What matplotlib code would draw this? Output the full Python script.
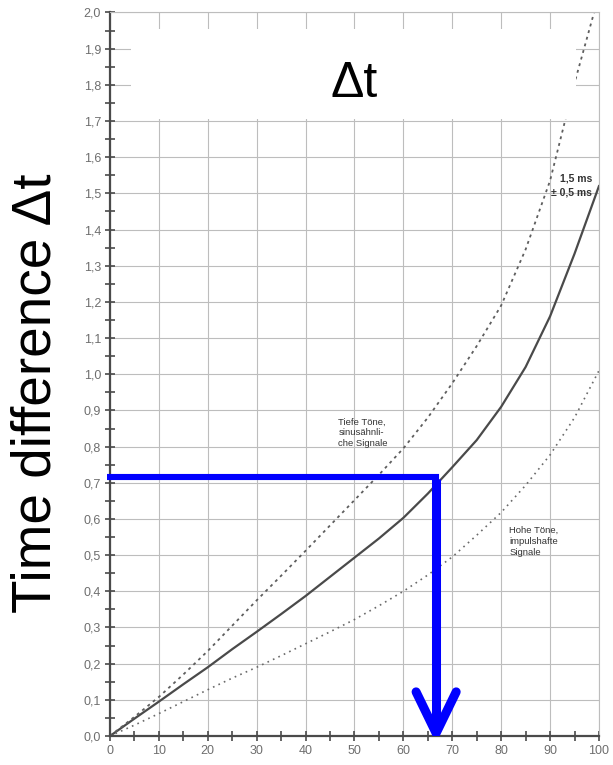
import numpy as np
import matplotlib.pyplot as plt
from matplotlib.patches import Rectangle

# angle / position along the x axis (0..100)
x_pos = [0, 5, 10, 15, 20, 25, 30, 35, 40, 45, 50,
         55, 60, 65, 70, 75, 80, 85, 90, 95, 100]

# mean curve, 1.5 ms at the end of the scale
dt_mean = [0.0, 0.048, 0.095, 0.143, 0.19, 0.24, 0.288, 0.337, 0.387, 0.44, 0.493,
           0.546, 0.603, 0.670, 0.743, 0.818, 0.91, 1.02, 1.16, 1.333, 1.52]

# low tones, sine-like signals (upper bound)
x_low = [0, 5, 10, 15, 20, 25, 30, 35, 40, 45, 50,
         55, 60, 65, 70, 75, 80, 85, 90, 95, 99]
dt_low = [0.0, 0.053, 0.108, 0.17, 0.235, 0.305, 0.375, 0.443, 0.512, 0.582, 0.652,
          0.722, 0.795, 0.88, 0.975, 1.078, 1.19, 1.345, 1.535, 1.805, 2.0]

# high tones, impulse-like signals (lower bound)
dt_high = [0.0, 0.03, 0.062, 0.095, 0.128, 0.16, 0.19, 0.222, 0.255, 0.288, 0.322,
           0.36, 0.40, 0.445, 0.495, 0.555, 0.618, 0.693, 0.777, 0.88, 1.01]

# reading example: time difference -> position
read_dt = 0.715
read_x = 66.7

x_ticks = np.arange(0, 101, 10)
y_ticks = np.round(np.arange(0, 2.01, 0.1), 1)
x_tick_labels = [str(v) for v in x_ticks]
y_tick_labels = [f"{v:.1f}".replace('.', ',') for v in y_ticks]

plt.rcParams['font.family'] = ['Liberation Sans', 'DejaVu Sans']

fig = plt.figure(figsize=(6.13, 7.65), dpi=100)
ax = fig.add_axes([0.1794, 0.0379, 0.7977, 0.9458])

ax.set_xlim(0, 100)
ax.set_ylim(0, 2.0)

# grid paper
ax.set_xticks(x_ticks)
ax.set_xticklabels(x_tick_labels)
ax.set_yticks(y_ticks)
ax.set_yticklabels(y_tick_labels)
ax.set_xticks(np.arange(5, 100, 10), minor=True)
ax.set_yticks(np.arange(0.05, 2.0, 0.1), minor=True)
ax.grid(True, which='major', color='#bdbdbd', lw=0.8)
ax.set_axisbelow(True)

for side in ('left', 'bottom'):
    ax.spines[side].set_color('#4a4a4a')
    ax.spines[side].set_linewidth(1.6)
for side in ('top', 'right'):
    ax.spines[side].set_color('#bdbdbd')
    ax.spines[side].set_linewidth(0.8)

ax.tick_params(which='both', direction='inout', length=7, width=1.2,
               color='#4a4a4a', labelcolor='#6e6e6e', labelsize=9)
ax.tick_params(axis='y', pad=3)
ax.tick_params(axis='x', pad=3)

# curves
ax.plot(x_pos, dt_mean, color='#4a4a4a', lw=1.6, zorder=2)
ax.plot(x_low, dt_low, color='#5e5e5e', lw=1.3, ls=(0, (1.6, 2.2)), zorder=2)
ax.plot(x_pos, dt_high, color='#6a6a6a', lw=1.2, ls=(0, (1, 2.6)), zorder=2)

# curve labels
ax.text(98.6, 1.555, "1,5 ms\n± 0,5 ms", ha='right', va='top', fontsize=7.5,
        fontweight='bold', color='#333333', linespacing=1.5, zorder=4)
ax.text(46.7, 0.88, "Tiefe Töne,\nsinusähnli-\nche Signale", ha='left', va='top',
        fontsize=6.8, color='#333333', linespacing=1.25, zorder=4)
ax.text(81.7, 0.58, "Hohe Töne,\nimpulshafte\nSignale", ha='left', va='top',
        fontsize=6.8, color='#333333', linespacing=1.25, zorder=4)

# white label box at the top
ax.add_patch(Rectangle((4.2, 1.705), 91.1, 0.25, facecolor='white',
                       edgecolor='none', zorder=3))
ax.text(49.9, 1.765, "Δt", ha='center', va='baseline', fontsize=36,
        color='black', zorder=4)

# blue reading line with arrow
ax.plot([-0.6, read_x, read_x], [read_dt, read_dt, 0.03], color='#0000ff',
        lw=4.4, solid_joinstyle='miter', solid_capstyle='butt', zorder=5,
        clip_on=False)
ax.plot([read_x, read_x], [read_dt - 0.005, 0.04], color='#0000ff', lw=6.5,
        solid_capstyle='butt', zorder=5)
ax.plot([read_x - 4.1, read_x, read_x + 4.1], [0.122, 0.008, 0.122],
        color='#0000ff', lw=6.5, solid_capstyle='round',
        solid_joinstyle='miter', zorder=5)

fig.text(0.059, 0.4856, "Time difference Δt", rotation=90, ha='center',
         va='center', fontsize=39.5, color='black')

fig.savefig('out.png', dpi=100)
